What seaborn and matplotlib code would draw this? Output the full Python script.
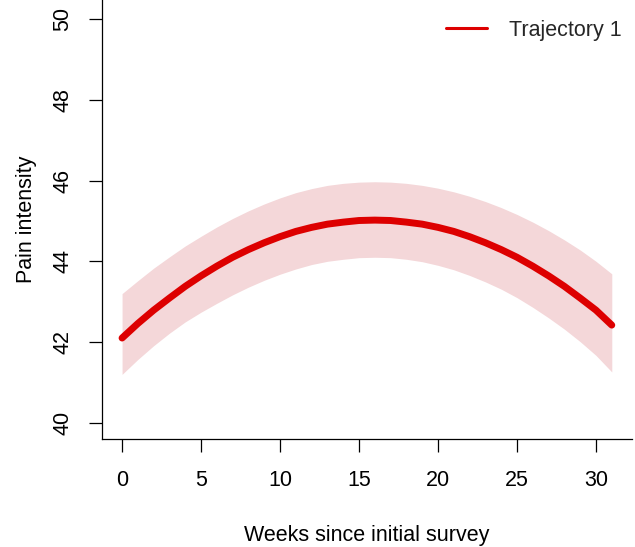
import numpy as np
import pandas as pd
import matplotlib
matplotlib.use("Agg")
import matplotlib.pyplot as plt
from matplotlib.lines import Line2D
import seaborn as sns

# values
weeks = list(range(0, 32))
pain_mean = [42.10, 42.46, 42.79, 43.09, 43.38, 43.64, 43.88, 44.10,
             44.29, 44.46, 44.61, 44.74, 44.84, 44.92, 44.97, 45.01,
             45.02, 45.01, 44.97, 44.92, 44.84, 44.74, 44.61, 44.46,
             44.29, 44.10, 43.88, 43.64, 43.38, 43.09, 42.79, 42.42]
pain_upper = [43.20, 43.52, 43.83, 44.11, 44.38, 44.62, 44.85, 45.06,
              45.25, 45.42, 45.57, 45.70, 45.80, 45.88, 45.93, 45.96,
              45.97, 45.96, 45.93, 45.88, 45.81, 45.72, 45.61, 45.48,
              45.33, 45.16, 44.97, 44.76, 44.53, 44.28, 44.00, 43.69]
pain_lower = [41.20, 41.57, 41.91, 42.22, 42.50, 42.74, 42.96, 43.17,
              43.36, 43.53, 43.68, 43.81, 43.92, 44.00, 44.05, 44.09,
              44.10, 44.09, 44.05, 43.99, 43.90, 43.79, 43.65, 43.49,
              43.31, 43.10, 42.86, 42.60, 42.32, 42.01, 41.67, 41.26]
x_ticks = [0, 5, 10, 15, 20, 25, 30]
y_ticks = [40, 42, 44, 46, 48, 50]
series_name = "Trajectory 1"

RED = "#DD0000"
BAND = "#F4D7D9"

sns.set_theme(style="ticks")
plt.rcParams["font.family"] = ["Liberation Sans", "DejaVu Sans"]

df = pd.DataFrame({"week": weeks, "pain": pain_mean,
                   "upper": pain_upper, "lower": pain_lower})

fig = plt.figure(figsize=(6.35, 5.47), dpi=100)
ax = fig.add_axes([102 / 635, 1 - 439 / 547, 530 / 635, 439 / 547])

ax.fill_between(df["week"], df["lower"], df["upper"], color=BAND, lw=0)
sns.lineplot(data=df, x="week", y="pain", color=RED, lw=5,
             solid_capstyle="round", ax=ax)

ax.set_xlim(-1.27, 32.28)
ax.set_ylim(39.6, 50.47)
ax.set_xticks(x_ticks)
ax.set_yticks(y_ticks)
ax.set_yticklabels([str(v) for v in y_ticks], rotation=90, va="center")

for side in ["top", "right"]:
    ax.spines[side].set_visible(False)
for side in ["left", "bottom"]:
    ax.spines[side].set_linewidth(0.9)
    ax.spines[side].set_color("black")
ax.tick_params(axis="both", direction="out", length=9.5, width=0.9,
               color="black", labelsize=15.5, labelcolor="black")
ax.tick_params(axis="x", pad=13)
ax.tick_params(axis="y", pad=11)

ax.set_xlabel("Weeks since initial survey", fontsize=15.5, labelpad=24,
              color="black")
ax.set_ylabel("Pain intensity", fontsize=15.5, labelpad=11, color="black")

handle = Line2D([], [], color=RED, lw=2.2)
ax.legend([handle], [series_name], loc="upper right", frameon=False,
          fontsize=15.5, handlelength=1.9, handletextpad=1.0,
          bbox_to_anchor=(1.0, 0.98), borderaxespad=0.1)

fig.savefig("out.png", dpi=100)
